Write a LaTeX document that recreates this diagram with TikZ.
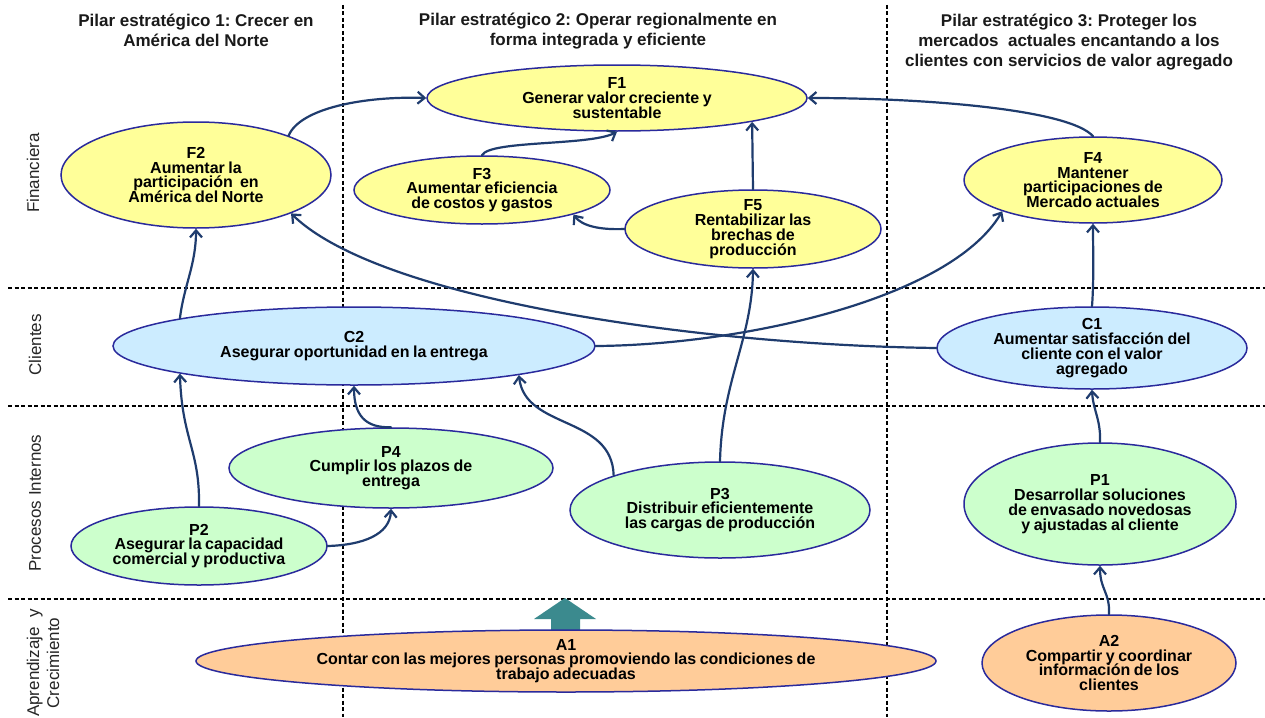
\documentclass[tikz,border=0pt]{standalone}
\usepackage{fontspec}
\setmainfont{Liberation Sans}
\newfontfamily\nodefam[WordSpace=0.8]{Liberation Sans}
\usetikzlibrary{shapes.geometric,arrows.meta}
\frenchspacing
\definecolor{yel}{HTML}{FFFF99}
\definecolor{blu}{HTML}{CCECFF}
\definecolor{grn}{HTML}{CCFFCC}
\definecolor{org}{HTML}{FFCC99}
\definecolor{edgeblue}{HTML}{2A2A9C}
\definecolor{conc}{HTML}{1F3C6E}
\definecolor{tealarrow}{HTML}{3B8A8E}
\definecolor{headc}{HTML}{1A1A1A}
\newcommand\objfont{\nodefam\bfseries\fontsize{16}{14.8}\selectfont\lineskiplimit=-30pt\relax}
\newcommand\headfont{\bfseries\fontsize{17}{20.3}\selectfont\lineskiplimit=-30pt\relax}
\newcommand\rowlabfont{\fontsize{17}{20}\selectfont\lineskiplimit=-30pt\relax}
\begin{document}
\begin{tikzpicture}[x=1pt,y=-1pt,
  obj/.style={ellipse, draw=edgeblue, line width=1.5pt, inner sep=0pt},
  txt/.style={align=center, font=\objfont, inner sep=0pt, text=black},
  head/.style={align=center, font=\headfont, inner sep=0pt, text=headc},
  rowlab/.style={rotate=90, align=center, font=\rowlabfont, inner sep=0pt, text=black!85},
  con/.style={draw=conc, line width=2.2pt, line cap=round, -{Straight Barb[length=7pt,width=12pt]}},
  divline/.style={draw=black, line width=1.2pt, dash pattern=on 4pt off 2.5pt}]
\useasboundingbox (0,0) rectangle (1265,717);
\fill[white] (0,0) rectangle (1265,717);
% dividers
\draw[divline] (343,5) -- (343,717);
\draw[divline] (887,5) -- (887,717);
\draw[divline] (8,288) -- (1265,288);
\draw[divline] (8,406) -- (1265,406);
\draw[divline] (8,599) -- (1265,599);
% headers
\node[head] (H1) at (196,30) {Pilar estratégico 1: Crecer en\\América del Norte};
\node[head] (H2) at (598,31) {Pilar estratégico 2: Operar regionalmente en\\forma integrada y eficiente};
\node[head] (H3) at (1069,42) {Pilar estratégico 3: Proteger los\\mercados\ \ actuales encantando a los\\clientes con servicios de valor agregado};
% row labels
\node[rowlab] (R1) at (33,173) {Financiera};
\node[rowlab] (R2) at (35,345) {Clientes};
\node[rowlab] (R3) at (35,503) {Procesos Internos};
\node[rowlab] (R4) at (43,663) {Aprendizaje\ \ y\\Crecimiento};
% teal block arrow
\fill[tealarrow] (551,632) -- (551,619) -- (534,619) -- (565,598) -- (596,619) -- (580,619) -- (580,632) -- cycle;
% ellipses
\node[obj, fill=yel, minimum width=380pt, minimum height=66pt] (F1) at (617,98) {};
\node[obj, fill=yel, minimum width=270pt, minimum height=106pt] (F2) at (196,175) {};
\node[obj, fill=yel, minimum width=256pt, minimum height=68pt] (F3) at (482,190) {};
\node[obj, fill=yel, minimum width=258pt, minimum height=86pt] (F4) at (1093,180) {};
\node[obj, fill=yel, minimum width=256pt, minimum height=78pt] (F5) at (753,229) {};
\node[obj, fill=blu, minimum width=310pt, minimum height=82pt] (C1) at (1092,348) {};
\node[obj, fill=blu, minimum width=482pt, minimum height=78pt] (C2) at (354,346) {};
\node[obj, fill=grn, minimum width=272pt, minimum height=122pt] (P1) at (1100,504) {};
\node[obj, fill=grn, minimum width=256pt, minimum height=78pt] (P2) at (199,546) {};
\node[obj, fill=grn, minimum width=300pt, minimum height=96pt] (P3) at (720,510) {};
\node[obj, fill=grn, minimum width=324pt, minimum height=80pt] (P4) at (391,468) {};
\node[obj, fill=org, minimum width=740pt, minimum height=62pt] (A1) at (566,661) {};
\node[obj, fill=org, minimum width=254pt, minimum height=96pt] (A2) at (1109,663) {};
% texts
\node[txt] (F1t) at (F1) {F1\\Generar valor creciente y\\sustentable};
\node[txt] (F2t) at (F2) {F2\\Aumentar la\\participación\ \ en\\América del Norte};
\node[txt] (F3t) at (F3) {F3\\Aumentar eficiencia\\de costos y gastos};
\node[txt] (F4t) at (F4) {F4\\Mantener\\participaciones de\\Mercado actuales};
\node[txt] (F5t) at (F5) {F5\\Rentabilizar las\\brechas de\\producción};
\node[txt] (C1t) at (C1) {C1\\Aumentar satisfacción del\\cliente con el valor\\agregado};
\node[txt] (C2t) at (C2) {C2\\Asegurar oportunidad en la entrega};
\node[txt] (P1t) at (P1) {P1\\Desarrollar soluciones\\de envasado novedosas\\y ajustadas al cliente};
\node[txt] (P2t) at (P2) {P2\\Asegurar la capacidad\\comercial y productiva};
\node[txt] (P3t) at (P3) {P3\\Distribuir eficientemente\\las cargas de producción};
\node[txt] (P4t) at (P4) {P4\\Cumplir los plazos de\\entrega};
\node[txt] (A1t) at (A1) {A1\\Contar con las mejores personas promoviendo las condiciones de\\trabajo adecuadas};
\node[txt] (A2t) at (A2) {A2\\Compartir y coordinar\\información de los\\clientes};
% connectors
\draw[con] (F2.23) .. controls (300,108) and (365,96) .. (F1.west);
\draw[con] (F3.north) .. controls (490,140) and (590,146) .. (F1.south);
\draw[con] (F5.north) -- (F1.-10);
\draw[con] (F5.west) .. controls (600,230) and (582,226) .. (F3.-15);
\draw[con] (F4.north) .. controls (1070,110) and (930,98) .. (F1.east);
\draw[con] (C2.171) .. controls (184,285) and (196,265) .. (F2.south);
\draw[con] (C1.west) .. controls (700,345) and (380,300) .. (F2.-22);
\draw[con] (C2.east) .. controls (740,345) and (950,300) .. (F4.199);
\draw[con] (C1.north) .. controls (1094,280) and (1093,250) .. (F4.south);
\draw[con] (P2.north) .. controls (200,450) and (182,440) .. (C2.189);
\draw[con] (P2.east) .. controls (362,545) and (390,535) .. (P4.south);
\draw[con] (P4.north) .. controls (365,428) and (354,415) .. (C2.south);
\draw[con] (P3.162) .. controls (612,415) and (525,430) .. (C2.-10);
\draw[con] (P3.north) .. controls (722,380) and (752,340) .. (F5.south);
\draw[con] (P1.north) .. controls (1101,420) and (1093,410) .. (C1.south);
\draw[con] (A2.north) .. controls (1110,592) and (1100,590) .. (P1.south);
\end{tikzpicture}
\end{document}
